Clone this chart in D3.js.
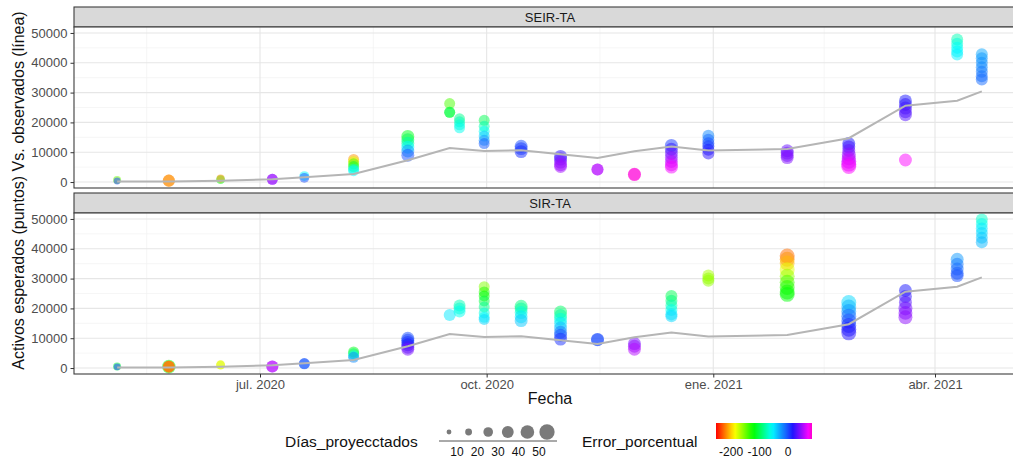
<!DOCTYPE html>
<html>
<head>
<meta charset="utf-8">
<script src="https://cdn.jsdelivr.net/npm/d3@7"></script>
<style>
  body { margin: 0; background: #fff; }
  svg { display: block; }
  text { font-family: "Liberation Sans", Arial, Helvetica, sans-serif; }
</style>
</head>
<body>
<svg id="chart" width="1013" height="459"></svg>
<script>
// ---- data -------------------------------------------------------------
const panelNames = ["SEIR-TA", "SIR-TA"];

// observed active cases (grey line, same in both panels)
const obsDates  = ["2020-05-04","2020-05-25","2020-06-15","2020-07-06","2020-07-19","2020-08-08",
                   "2020-08-30","2020-09-16","2020-09-30","2020-10-15","2020-10-31","2020-11-15",
                   "2020-11-30","2020-12-15","2020-12-30","2021-01-31","2021-02-25","2021-03-20",
                   "2021-04-10","2021-04-20"];
const obsValues = [150, 200, 400, 950, 1600, 2700,
                   7300, 11400, 10400, 10700, 9300, 8100,
                   10300, 11900, 10600, 11100, 14700, 25600,
                   27300, 30400];

// expected active cases: [fecha, activos esperados, días proyectados, error porcentual]
const seirPoints = [
  ["2020-05-04", 700, 14, -150], ["2020-05-04", 350, 10, 5],
  ["2020-05-25", 450, 32, -220], ["2020-05-25", 450, 32, -215],
  ["2020-06-15", 800, 17, -120], ["2020-06-15", 1150, 14, -215],
  ["2020-07-06", 900, 26, 45], ["2020-07-06", 900, 26, 48],
  ["2020-07-19", 2000, 21, -55], ["2020-07-19", 1400, 21, 0],
  ["2020-08-08", 7600, 26, -215], ["2020-08-08", 6900, 26, -180], ["2020-08-08", 6100, 26, -140],
  ["2020-08-08", 5200, 26, -110], ["2020-08-08", 4300, 26, -70], ["2020-08-08", 3800, 26, -55],
  ["2020-08-30", 15300, 36, -115], ["2020-08-30", 14200, 36, -100], ["2020-08-30", 13000, 36, -80],
  ["2020-08-30", 11700, 36, -55], ["2020-08-30", 10400, 36, -25], ["2020-08-30", 9000, 36, 0],
  ["2020-09-16", 26300, 26, -140], ["2020-09-16", 23400, 26, -110], ["2020-09-16", 23400, 26, -105],
  ["2020-09-20", 21200, 26, -85], ["2020-09-20", 20200, 26, -75], ["2020-09-20", 19200, 26, -65],
  ["2020-09-20", 18200, 26, -60],
  ["2020-09-30", 20700, 26, -100], ["2020-09-30", 18700, 26, -75], ["2020-09-30", 17000, 26, -60],
  ["2020-09-30", 15400, 26, -40], ["2020-09-30", 14000, 26, -25], ["2020-09-30", 12900, 26, -5],
  ["2020-10-15", 12000, 36, 0], ["2020-10-15", 11200, 36, 5], ["2020-10-15", 10200, 36, 8],
  ["2020-10-31", 8600, 36, 20], ["2020-10-31", 7700, 36, 30], ["2020-10-31", 6700, 36, 40],
  ["2020-10-31", 5800, 36, 48], ["2020-10-31", 5200, 36, 50],
  ["2020-11-15", 4200, 31, 55], ["2020-11-15", 4200, 31, 55],
  ["2020-11-30", 2600, 36, 80], ["2020-11-30", 2500, 36, 82],
  ["2020-12-15", 12300, 36, 5], ["2020-12-15", 11000, 36, 20], ["2020-12-15", 9600, 36, 35],
  ["2020-12-15", 8200, 36, 45], ["2020-12-15", 6900, 36, 55], ["2020-12-15", 5800, 36, 65],
  ["2020-12-15", 5000, 36, 70],
  ["2020-12-30", 15500, 31, -20], ["2020-12-30", 14200, 31, -10], ["2020-12-30", 13000, 31, 0],
  ["2020-12-30", 12000, 31, 5], ["2020-12-30", 10800, 31, 15], ["2020-12-30", 9600, 31, 20],
  ["2021-01-31", 10500, 36, 35], ["2021-01-31", 9700, 36, 38], ["2021-01-31", 8900, 36, 40],
  ["2021-01-31", 8200, 36, 42],
  ["2021-02-25", 12900, 36, 15], ["2021-02-25", 11800, 36, 25], ["2021-02-25", 10600, 36, 35],
  ["2021-02-25", 9200, 42, 45], ["2021-02-25", 8000, 42, 55], ["2021-02-25", 7000, 48, 60],
  ["2021-02-25", 6000, 48, 65], ["2021-02-25", 5200, 48, 72],
  ["2021-03-20", 27200, 36, 15], ["2021-03-20", 26000, 36, 20], ["2021-03-20", 24800, 36, 25],
  ["2021-03-20", 23600, 36, 28], ["2021-03-20", 22600, 36, 30], ["2021-03-20", 7400, 36, 72],
  ["2021-04-10", 47800, 31, -75], ["2021-04-10", 46400, 31, -65], ["2021-04-10", 45000, 31, -58],
  ["2021-04-10", 43800, 31, -55], ["2021-04-10", 42800, 31, -52],
  ["2021-04-20", 42900, 31, -30], ["2021-04-20", 41500, 31, -25], ["2021-04-20", 40000, 31, -22],
  ["2021-04-20", 38500, 31, -20], ["2021-04-20", 37000, 31, -15], ["2021-04-20", 35500, 31, -12],
  ["2021-04-20", 34400, 31, -10]
];

const sirPoints = [
  ["2020-05-04", 500, 14, -110], ["2020-05-04", 400, 10, 5],
  ["2020-05-25", 450, 40, -120], ["2020-05-25", 450, 30, -225], ["2020-05-25", 450, 30, -220],
  ["2020-05-25", 450, 30, -222],
  ["2020-06-15", 1100, 17, -190], ["2020-06-15", 1000, 17, -175],
  ["2020-07-06", 500, 31, 55], ["2020-07-06", 500, 31, 55],
  ["2020-07-19", 1500, 26, 0], ["2020-07-19", 1400, 26, -5],
  ["2020-08-08", 5400, 26, -115], ["2020-08-08", 4800, 26, -95], ["2020-08-08", 4100, 26, -60],
  ["2020-08-08", 3600, 26, -20],
  ["2020-08-30", 10000, 36, 0], ["2020-08-30", 9300, 36, 3], ["2020-08-30", 8600, 36, 8],
  ["2020-08-30", 7800, 36, 15], ["2020-08-30", 7000, 36, 28], ["2020-08-30", 6300, 36, 40],
  ["2020-09-16", 17800, 31, -50],
  ["2020-09-20", 21000, 31, -75], ["2020-09-20", 20000, 31, -68], ["2020-09-20", 19000, 31, -60],
  ["2020-09-30", 27300, 26, -155], ["2020-09-30", 25500, 26, -130], ["2020-09-30", 24200, 26, -120],
  ["2020-09-30", 22500, 26, -105], ["2020-09-30", 20500, 26, -85], ["2020-09-30", 18500, 26, -65],
  ["2020-09-30", 17000, 26, -55], ["2020-09-30", 16300, 26, -45],
  ["2020-10-15", 20700, 36, -90], ["2020-10-15", 19800, 36, -80], ["2020-10-15", 18600, 36, -65],
  ["2020-10-15", 17200, 36, -50], ["2020-10-15", 15900, 36, -40],
  ["2020-10-31", 18800, 36, -95], ["2020-10-31", 17600, 36, -80], ["2020-10-31", 16400, 36, -65],
  ["2020-10-31", 15000, 36, -50], ["2020-10-31", 13400, 36, -35], ["2020-10-31", 12000, 36, -15],
  ["2020-10-31", 11000, 36, 0], ["2020-10-31", 9700, 36, 8],
  ["2020-11-15", 9600, 36, 0], ["2020-11-15", 9500, 36, 2],
  ["2020-11-30", 8200, 36, 40], ["2020-11-30", 7300, 36, 48], ["2020-11-30", 6300, 36, 55],
  ["2020-12-15", 24200, 31, -100], ["2020-12-15", 22600, 31, -90], ["2020-12-15", 21000, 31, -75],
  ["2020-12-15", 19500, 31, -60], ["2020-12-15", 18000, 31, -50], ["2020-12-15", 17400, 31, -45],
  ["2020-12-30", 31000, 31, -165], ["2020-12-30", 30000, 31, -160], ["2020-12-30", 29300, 31, -160],
  ["2021-01-31", 37600, 48, -225], ["2021-01-31", 36500, 48, -215], ["2021-01-31", 35200, 48, -205],
  ["2021-01-31", 33000, 48, -180], ["2021-01-31", 30800, 48, -160], ["2021-01-31", 28800, 48, -140],
  ["2021-01-31", 27000, 48, -130], ["2021-01-31", 25500, 48, -125], ["2021-01-31", 24700, 48, -120],
  ["2021-02-25", 22000, 48, -45], ["2021-02-25", 20500, 48, -35], ["2021-02-25", 19000, 48, -25],
  ["2021-02-25", 17400, 48, -10], ["2021-02-25", 15800, 48, 0], ["2021-02-25", 14300, 48, 8],
  ["2021-02-25", 13000, 48, 15], ["2021-02-25", 11800, 48, 18],
  ["2021-03-20", 26000, 36, 15], ["2021-03-20", 24000, 36, 22], ["2021-03-20", 22000, 36, 30],
  ["2021-03-20", 20000, 42, 38], ["2021-03-20", 18500, 42, 43], ["2021-03-20", 17000, 42, 45],
  ["2021-04-10", 36500, 36, -25], ["2021-04-10", 34800, 36, -15], ["2021-04-10", 33200, 36, -10],
  ["2021-04-10", 31800, 36, -5], ["2021-04-10", 31000, 36, 0],
  ["2021-04-20", 49800, 31, -70], ["2021-04-20", 48300, 31, -60], ["2021-04-20", 46800, 31, -50],
  ["2021-04-20", 45300, 31, -45], ["2021-04-20", 43700, 31, -40], ["2021-04-20", 42200, 31, -35]
];

const xTickDates   = ["2020-07-01", "2020-10-01", "2021-01-01", "2021-04-01"];
const xTickLabels  = ["jul. 2020", "oct. 2020", "ene. 2021", "abr. 2021"];
const xMinorDates  = ["2020-05-16", "2020-08-16", "2020-11-16", "2021-02-15"];
const yTicks       = [0, 10000, 20000, 30000, 40000, 50000];
const yMinorTicks  = [5000, 15000, 25000, 35000, 45000];
const sizeKeys     = [5, 10, 20, 30, 40, 50];
const sizeLabels   = ["10", "20", "30", "40", "50"];
const errorTicks   = [-200, -100, 0];

// ---- layout -------------------------------------------------------------
const svg = d3.select("#chart");
const parse = d3.timeParse("%Y-%m-%d");
const plotLeft = 74, plotRight = 1026;
const panels = [
  { name: panelNames[0], pts: seirPoints, stripTop: 7,   top: 27,  bottom: 188 },
  { name: panelNames[1], pts: sirPoints,  stripTop: 193, top: 213, bottom: 374 }
];

// time scale anchored on the quarter ticks, then widened to the panel edges
const x = d3.scaleTime()
  .domain([parse("2020-07-01"), parse("2021-04-01")])
  .range([260, 935]);
x.domain([x.invert(plotLeft), x.invert(plotRight)]).range([plotLeft, plotRight]);

const yDomain = [-2000, 52000];
// rainbow colour ramp for the percentage error (red = over-estimate, magenta = under-estimate)
const color = d3.scaleLinear()
  .domain([-253, -56, 0, 84])
  .range([d3.hsl(0, 1, 0.5), d3.hsl(180, 1, 0.5), d3.hsl(226, 1, 0.55), d3.hsl(312, 1, 0.5)])
  .interpolate(d3.interpolateHslLong)
  .clamp(true);
const size = d3.scaleSqrt().domain([0, 55]).range([0, 8]);

const gridMajor = "#e6e6e6", gridMinor = "#f2f2f2", frame = "#3c3c3c", tickText = "#4d4d4d";

panels.forEach((p, i) => {
  const y = d3.scaleLinear().domain(yDomain).range([p.bottom, p.top]);

  // strip
  svg.append("rect")
    .attr("x", plotLeft).attr("y", p.stripTop)
    .attr("width", plotRight - plotLeft).attr("height", p.top - p.stripTop)
    .attr("fill", "#d9d9d9").attr("stroke", frame).attr("stroke-width", 1.1);
  svg.append("text")
    .attr("x", (plotLeft + plotRight) / 2).attr("y", (p.stripTop + p.top) / 2)
    .attr("dy", "0.35em").attr("text-anchor", "middle")
    .attr("font-size", 13).attr("fill", "#1a1a1a").text(p.name);

  const clipId = "clip" + i;
  svg.append("clipPath").attr("id", clipId).append("rect")
    .attr("x", plotLeft).attr("y", p.top)
    .attr("width", plotRight - plotLeft).attr("height", p.bottom - p.top);

  const g = svg.append("g").attr("clip-path", `url(#${clipId})`);
  g.append("rect").attr("x", plotLeft).attr("y", p.top)
    .attr("width", plotRight - plotLeft).attr("height", p.bottom - p.top).attr("fill", "#fff");

  // grid
  g.selectAll(".ymin").data(yMinorTicks).join("line")
    .attr("x1", plotLeft).attr("x2", plotRight)
    .attr("y1", d => y(d)).attr("y2", d => y(d))
    .attr("stroke", gridMinor).attr("stroke-width", 0.7);
  g.selectAll(".xmin").data(xMinorDates).join("line")
    .attr("x1", d => x(parse(d))).attr("x2", d => x(parse(d)))
    .attr("y1", p.top).attr("y2", p.bottom)
    .attr("stroke", gridMinor).attr("stroke-width", 0.7);
  g.selectAll(".ymaj").data(yTicks).join("line")
    .attr("x1", plotLeft).attr("x2", plotRight)
    .attr("y1", d => y(d)).attr("y2", d => y(d))
    .attr("stroke", gridMajor).attr("stroke-width", 1.1);
  g.selectAll(".xmaj").data(xTickDates).join("line")
    .attr("x1", d => x(parse(d))).attr("x2", d => x(parse(d)))
    .attr("y1", p.top).attr("y2", p.bottom)
    .attr("stroke", gridMajor).attr("stroke-width", 1.1);

  // expected values
  g.selectAll("circle.pt").data(p.pts).join("circle")
    .attr("class", "pt")
    .attr("cx", d => x(parse(d[0])))
    .attr("cy", d => y(d[1]))
    .attr("r", d => size(d[2]))
    .attr("fill", d => color(d[3]))
    .attr("fill-opacity", 0.5);

  // observed line
  const line = d3.line().x(d => x(parse(d[0]))).y(d => y(d[1]));
  g.append("path")
    .datum(obsDates.map((d, k) => [d, obsValues[k]]))
    .attr("d", line).attr("fill", "none")
    .attr("stroke", "#b5b5b5").attr("stroke-width", 2);

  // frame
  svg.append("rect")
    .attr("x", plotLeft).attr("y", p.top)
    .attr("width", plotRight - plotLeft).attr("height", p.bottom - p.top)
    .attr("fill", "none").attr("stroke", frame).attr("stroke-width", 1.1);

  // y axis
  const ya = svg.append("g").attr("transform", `translate(${plotLeft},0)`)
    .call(d3.axisLeft(y).tickValues(yTicks).tickFormat(d3.format("d")).tickSize(3.5).tickPadding(3));
  ya.select(".domain").remove();
  ya.selectAll("line").attr("stroke", "#333");
  ya.selectAll("text").attr("font-size", 13).attr("fill", tickText)
    .attr("font-family", "'Liberation Sans', Arial, sans-serif");

  // x axis on the lower panel only
  if (i === panels.length - 1) {
    const xa = svg.append("g").attr("transform", `translate(0,${p.bottom})`)
      .call(d3.axisBottom(x).tickValues(xTickDates.map(parse))
        .tickFormat((d, k) => xTickLabels[k]).tickSize(3.5).tickPadding(2));
    xa.select(".domain").remove();
    xa.selectAll("line").attr("stroke", "#333");
    xa.selectAll("text").attr("font-size", 13).attr("fill", tickText)
      .attr("font-family", "'Liberation Sans', Arial, sans-serif");
  }
});

// axis titles
svg.append("text")
  .attr("x", (plotLeft + plotRight) / 2).attr("y", 404)
  .attr("text-anchor", "middle").attr("font-size", 16).attr("fill", "#111")
  .text("Fecha");
svg.append("text")
  .attr("transform", `translate(24,${(7 + 374) / 2}) rotate(-90)`)
  .attr("text-anchor", "middle").attr("font-size", 16).attr("fill", "#111")
  .text("Activos esperados (puntos) Vs. observados (línea)");

// ---- legends ------------------------------------------------------------
const leg = svg.append("g");
leg.append("text").attr("x", 285).attr("y", 447)
  .attr("font-size", 15.5).attr("fill", "#111").text("Días_proyecctados");

const keyX = d3.scalePoint().domain(sizeKeys).range([449, 547]);
leg.append("line").attr("x1", 439).attr("x2", 557).attr("y1", 441).attr("y2", 441)
  .attr("stroke", "#555").attr("stroke-width", 1);
leg.selectAll("circle.key").data(sizeKeys).join("circle")
  .attr("class", "key")
  .attr("cx", d => keyX(d)).attr("cy", 432)
  .attr("r", d => size(d)).attr("fill", "#7a7a7a");
const labX = d3.scalePoint().domain(sizeLabels).range([457, 539]);
leg.selectAll("text.sl").data(sizeLabels).join("text")
  .attr("class", "sl")
  .attr("x", d => labX(d)).attr("y", 456)
  .attr("text-anchor", "middle").attr("font-size", 12).attr("fill", "#111").text(d => d);

leg.append("text").attr("x", 582).attr("y", 447)
  .attr("font-size", 15.5).attr("fill", "#111").text("Error_porcentual");

const errDomain = [color.domain()[0], color.domain()[color.domain().length - 1]];
const barX = d3.scaleLinear().domain(errDomain).range([716, 812]);
const grad = svg.append("defs").append("linearGradient").attr("id", "errGrad")
  .attr("x1", "0%").attr("x2", "100%").attr("y1", "0%").attr("y2", "0%");
d3.range(0, 1.0001, 0.04).forEach(t => {
  const v = errDomain[0] + t * (errDomain[1] - errDomain[0]);
  grad.append("stop").attr("offset", (t * 100) + "%").attr("stop-color", color(v));
});
leg.append("rect").attr("x", 716).attr("y", 423).attr("width", 96).attr("height", 16)
  .attr("fill", "url(#errGrad)");
leg.selectAll("text.el").data(errorTicks).join("text")
  .attr("class", "el")
  .attr("x", d => barX(d)).attr("y", 456)
  .attr("text-anchor", "middle").attr("font-size", 12).attr("fill", "#111").text(d => d);
</script>
</body>
</html>
